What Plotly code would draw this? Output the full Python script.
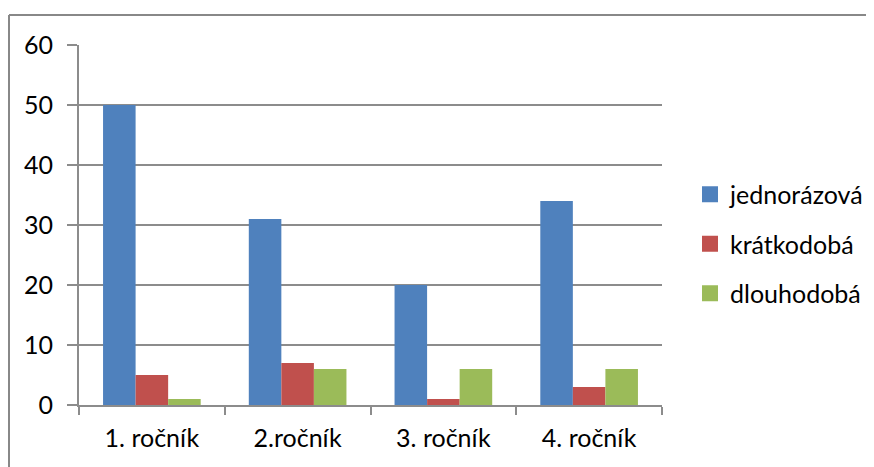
import plotly.graph_objects as go

categories = ["1. ročník", "2.ročník", "3. ročník", "4. ročník"]
jednorazova = [50, 31, 20, 34]
kratkodoba = [5, 7, 1, 3]
dlouhodoba = [1, 6, 6, 6]
y_ticks = [0, 10, 20, 30, 40, 50, 60]

series = [
    ("jednorázová", jednorazova, "#4F81BD"),
    ("krátkodobá", kratkodoba, "#C0504D"),
    ("dlouhodobá", dlouhodoba, "#9BBB59"),
]

FONT = "Lato, Carlito, Calibri, sans-serif"
GRID = "#8C8C8C"
FS = 25

# page body has an 8px default margin; positions below are in figure pixels
OFF = 8
W, H = 874, 467
L = 79 - OFF
T = 45 - OFF
R = W - (662 - OFF)
B = H - (405 - OFF)
pw = W - L - R
ph = H - T - B

def px_x(p):
    return (p - OFF - L) / pw

def px_y(p):
    return (H - B - (p - OFF)) / ph

fig = go.Figure()
for name, vals, col in series:
    fig.add_trace(go.Bar(
        name=name, x=categories, y=vals,
        marker=dict(color=col, line=dict(width=0)),
        legendgroup=name, showlegend=False,
    ))
    fig.add_trace(go.Scatter(
        name=name, x=[None], y=[None], mode="markers",
        marker=dict(symbol="square", size=16, color=col),
        legendgroup=name, showlegend=True,
    ))

fig.update_layout(
    width=W, height=H,
    margin=dict(l=L, r=R, t=T, b=B),
    paper_bgcolor="white", plot_bgcolor="white",
    barmode="group", bargap=0.33, bargroupgap=0,
    font=dict(family=FONT, size=FS, color="black"),
    showlegend=True,
    legend=dict(
        x=px_x(690), y=px_y(244), xanchor="left", yanchor="middle",
        font=dict(size=FS, color="black"),
        traceorder="grouped", tracegroupgap=14,
        bgcolor="rgba(0,0,0,0)",
    ),
    xaxis=dict(
        type="category", showgrid=False, showline=True, linecolor=GRID, linewidth=2,
        ticks="outside", tickson="boundaries", ticklen=8, tickcolor=GRID, tickwidth=2,
        tickfont=dict(size=FS, color="black"), fixedrange=True, ticklabelstandoff=10,
    ),
    yaxis=dict(
        range=[0, 60], tickvals=y_ticks, showgrid=True, gridcolor=GRID, gridwidth=2,
        showline=True, linecolor=GRID, linewidth=2, zeroline=False,
        ticks="outside", ticklen=10, tickcolor=GRID, tickwidth=2,
        tickfont=dict(size=FS, color="black"), ticklabelstandoff=9,
    ),
    shapes=[
        dict(type="line", xref="paper", yref="paper",
             x0=px_x(9), x1=px_x(890), y0=px_y(15), y1=px_y(15),
             line=dict(color="#888888", width=2)),
        dict(type="line", xref="paper", yref="paper",
             x0=px_x(9), x1=px_x(9), y0=px_y(15), y1=px_y(480),
             line=dict(color="#888888", width=2)),
    ],
)

fig.write_html("out.html")
